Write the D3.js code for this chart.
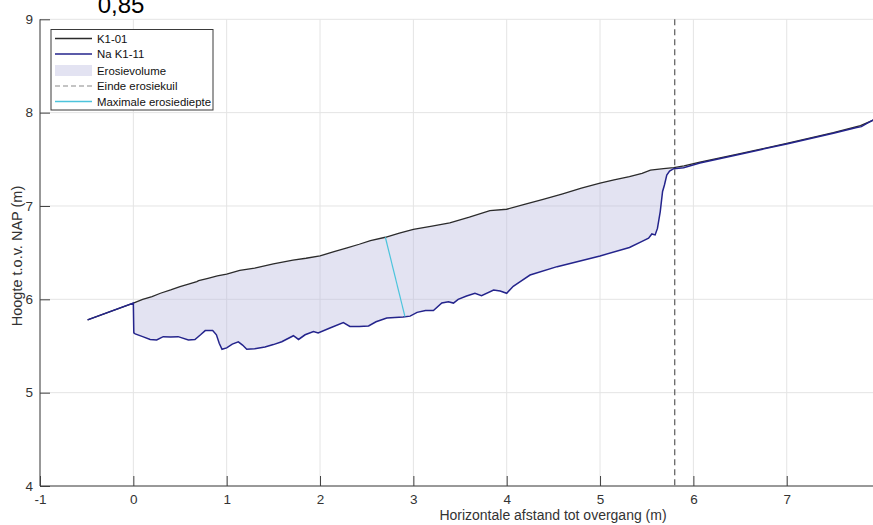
<!DOCTYPE html>
<html>
<head>
<meta charset="utf-8">
<script src="https://cdn.jsdelivr.net/npm/d3@7/dist/d3.min.js"></script>
<style>
  html, body { margin: 0; padding: 0; background: #fff; }
  svg { display: block; font-family: "Liberation Sans", Arial, sans-serif; }
</style>
</head>
<body>
<svg id="chart" width="873" height="525"></svg>
<script>
// ---------- data ----------
const titleText = "0,85";
const xTicks = [-1, 0, 1, 2, 3, 4, 5, 6, 7];
const yTicks = [4, 5, 6, 7, 8, 9];

// K1-01 (initial profile)
const k101X = [-0.49, 0.0, 0.1, 0.2, 0.29, 0.4, 0.5, 0.6, 0.68, 0.7, 0.8, 0.9, 1.0, 1.14, 1.3, 1.5, 1.71, 1.85, 2.0, 2.15, 2.29, 2.42, 2.54, 2.7, 2.85, 3.0, 3.2, 3.39, 3.6, 3.82, 4.0, 4.2, 4.39, 4.6, 4.8, 5.0, 5.15, 5.315, 5.45, 5.54, 5.68, 5.79, 5.9, 6.07, 6.5, 7.0, 7.5, 7.79, 7.95];
const k101Y = [5.78, 5.96, 6.0, 6.03, 6.065, 6.10, 6.135, 6.165, 6.19, 6.2, 6.225, 6.25, 6.27, 6.31, 6.335, 6.38, 6.42, 6.44, 6.465, 6.51, 6.55, 6.59, 6.63, 6.665, 6.71, 6.75, 6.785, 6.82, 6.88, 6.95, 6.965, 7.02, 7.07, 7.13, 7.19, 7.245, 7.28, 7.315, 7.35, 7.385, 7.40, 7.41, 7.43, 7.47, 7.56, 7.67, 7.785, 7.86, 7.93];

// Na K1-11 (profile after test)
const k111X = [-0.49, 0.0, 0.005, 0.02, 0.1, 0.18, 0.25, 0.32, 0.4, 0.48, 0.59, 0.66, 0.72, 0.77, 0.85, 0.89, 0.92, 0.95, 1.0, 1.06, 1.125, 1.17, 1.215, 1.3, 1.41, 1.5, 1.59, 1.715, 1.77, 1.84, 1.93, 1.98, 2.1, 2.25, 2.32, 2.42, 2.52, 2.6, 2.715, 2.89, 2.965, 3.04, 3.13, 3.215, 3.305, 3.375, 3.43, 3.48, 3.57, 3.66, 3.73, 3.86, 3.93, 4.0, 4.07, 4.145, 4.25, 4.54, 5.0, 5.315, 5.45, 5.52, 5.555, 5.59, 5.615, 5.645, 5.67, 5.69, 5.715, 5.745, 5.79, 5.895, 6.07, 6.5, 7.0, 7.5, 7.75, 7.8, 7.85, 7.95];
const k111Y = [5.78, 5.96, 5.64, 5.63, 5.60, 5.57, 5.565, 5.60, 5.595, 5.60, 5.565, 5.57, 5.62, 5.665, 5.665, 5.62, 5.53, 5.465, 5.48, 5.52, 5.545, 5.51, 5.465, 5.47, 5.49, 5.515, 5.545, 5.61, 5.57, 5.62, 5.655, 5.64, 5.69, 5.75, 5.71, 5.71, 5.715, 5.76, 5.80, 5.81, 5.82, 5.86, 5.88, 5.88, 5.96, 5.975, 5.96, 6.0, 6.035, 6.065, 6.04, 6.10, 6.09, 6.065, 6.14, 6.19, 6.26, 6.35, 6.465, 6.555, 6.62, 6.655, 6.70, 6.69, 6.76, 6.94, 7.155, 7.225, 7.33, 7.375, 7.40, 7.41, 7.46, 7.555, 7.665, 7.78, 7.84, 7.85, 7.88, 7.935];

const erosionStart = 0.0;
const erosionEnd = 5.8;           // Einde erosiekuil
const maxDepthX = [2.70, 2.91];   // Maximale erosiediepte
const maxDepthY = [6.665, 5.815];

const legendLabels = ["K1-01", "Na K1-11", "Erosievolume", "Einde erosiekuil", "Maximale erosiediepte"];

// ---------- layout ----------
const svg = d3.select("#chart");
const W = 873, H = 525;
const mLeft = 40, mTop = 19.3, mBottom = 486;
const unit = (mBottom - mTop) / 5;
const x = d3.scaleLinear().domain([-1, 10]).range([mLeft, mLeft + 11 * unit]);
const y = d3.scaleLinear().domain([4, 9]).range([mBottom, mTop]);

const cK101 = "#2b2b2b";
const cK111 = "#24248c";
const cCyan = "#4cc4dc";
const cDash = "#666666";
const cAxis = "#404040";

svg.append("defs").append("clipPath").attr("id", "clip")
  .append("rect").attr("x", mLeft).attr("y", 0).attr("width", W - mLeft).attr("height", mBottom);

// grid
const grid = svg.append("g");
grid.selectAll("line.gx").data(xTicks).join("line")
  .attr("x1", d => x(d)).attr("x2", d => x(d)).attr("y1", y(9)).attr("y2", y(4))
  .attr("stroke", "#e4e4e4").attr("stroke-width", 1);
grid.selectAll("line.gy").data(yTicks).join("line")
  .attr("x1", mLeft).attr("x2", W).attr("y1", d => y(d)).attr("y2", d => y(d))
  .attr("stroke", "#e4e4e4").attr("stroke-width", 1);

// title (cut off at the top edge, as in the source figure)
svg.append("text").attr("x", 121).attr("y", 12.5).attr("text-anchor", "middle")
  .attr("font-size", 24).attr("fill", "#000").text(titleText);

const plot = svg.append("g").attr("clip-path", "url(#clip)");

// fill between profiles
const top1 = k101X.map((v, i) => [v, k101Y[i]]).filter(p => p[0] >= erosionStart && p[0] <= erosionEnd);
const bot1 = k111X.map((v, i) => [v, k111Y[i]]).filter(p => p[0] > erosionStart && p[0] <= erosionEnd).reverse();
const poly = top1.concat(bot1);
const lineGen = d3.line().x(d => x(d[0])).y(d => y(d[1]));
plot.append("path").attr("d", lineGen(poly) + "Z")
  .attr("fill", "#b8bade").attr("fill-opacity", 0.4).attr("stroke", "none");

// profiles
plot.append("path").attr("d", lineGen(k101X.map((v, i) => [v, k101Y[i]])))
  .attr("fill", "none").attr("stroke", cK101).attr("stroke-width", 1.3);
plot.append("path").attr("d", lineGen(k111X.map((v, i) => [v, k111Y[i]])))
  .attr("fill", "none").attr("stroke", cK111).attr("stroke-width", 1.5);

// einde erosiekuil
plot.append("line").attr("x1", x(erosionEnd)).attr("x2", x(erosionEnd))
  .attr("y1", y(9)).attr("y2", y(4))
  .attr("stroke", cDash).attr("stroke-width", 1.3).attr("stroke-dasharray", "6,4");

// max depth
plot.append("path").attr("d", lineGen(maxDepthX.map((v, i) => [v, maxDepthY[i]])))
  .attr("fill", "none").attr("stroke", cCyan).attr("stroke-width", 1.2);

// axes
const fmt = d => String(d);
const xAxis = d3.axisBottom(x).tickValues(xTicks).tickSize(-10).tickPadding(8).tickFormat(fmt);
const gx = svg.append("g").attr("transform", `translate(0,${mBottom})`).call(xAxis);
gx.select(".domain").attr("stroke", cAxis).attr("d", `M${mLeft},0H${W + 5}`);
gx.selectAll(".tick line").attr("stroke", cAxis);
gx.selectAll(".tick text").attr("font-size", 13.5).attr("fill", "#333")
  .attr("font-family", "Liberation Sans, Arial, sans-serif").attr("dy", "0.72em").attr("y", 8);

const yAxis = d3.axisLeft(y).tickValues(yTicks).tickSize(-10).tickPadding(7).tickFormat(fmt);
const gy = svg.append("g").attr("transform", `translate(${mLeft},0)`).call(yAxis);
gy.select(".domain").attr("stroke", cAxis).attr("d", `M0,${y(9)}V${mBottom}`);
gy.selectAll(".tick line").attr("stroke", cAxis);
gy.selectAll(".tick text").attr("font-size", 13.5).attr("fill", "#333")
  .attr("font-family", "Liberation Sans, Arial, sans-serif");

// axis labels
svg.append("text").attr("x", 553).attr("y", 520).attr("text-anchor", "middle")
  .attr("font-size", 14).attr("fill", "#333").text("Horizontale afstand tot overgang (m)");
svg.append("text").attr("transform", "translate(22,256) rotate(-90)").attr("text-anchor", "middle")
  .attr("font-size", 14.5).attr("fill", "#333").text("Hoogte t.o.v. NAP (m)");

// legend
const lg = svg.append("g");
lg.append("rect").attr("x", 51).attr("y", 29.5).attr("width", 162).attr("height", 80.5)
  .attr("fill", "#fff").attr("stroke", "#3a3a3a").attr("stroke-width", 1);
const rowY = [38.5, 54, 70.5, 86, 101.5];
const sx0 = 55, sx1 = 92;
lg.append("line").attr("x1", sx0).attr("x2", sx1).attr("y1", rowY[0]).attr("y2", rowY[0]).attr("stroke", cK101).attr("stroke-width", 1.3);
lg.append("line").attr("x1", sx0).attr("x2", sx1).attr("y1", rowY[1]).attr("y2", rowY[1]).attr("stroke", cK111).attr("stroke-width", 1.5);
lg.append("rect").attr("x", sx0).attr("y", rowY[2] - 5.5).attr("width", sx1 - sx0).attr("height", 11)
  .attr("fill", "#b8bade").attr("fill-opacity", 0.4);
lg.append("line").attr("x1", sx0).attr("x2", sx1).attr("y1", rowY[3]).attr("y2", rowY[3]).attr("stroke", "#8a8a8a").attr("stroke-width", 1.2).attr("stroke-dasharray", "5,3");
lg.append("line").attr("x1", sx0).attr("x2", sx1).attr("y1", rowY[4]).attr("y2", rowY[4]).attr("stroke", cCyan).attr("stroke-width", 1.3);
lg.selectAll("text.lt").data(legendLabels).join("text")
  .attr("x", 97).attr("y", (d, i) => rowY[i]).attr("dy", "0.36em")
  .attr("font-size", 11.4).attr("fill", "#111").text(d => d);
</script>
</body>
</html>
